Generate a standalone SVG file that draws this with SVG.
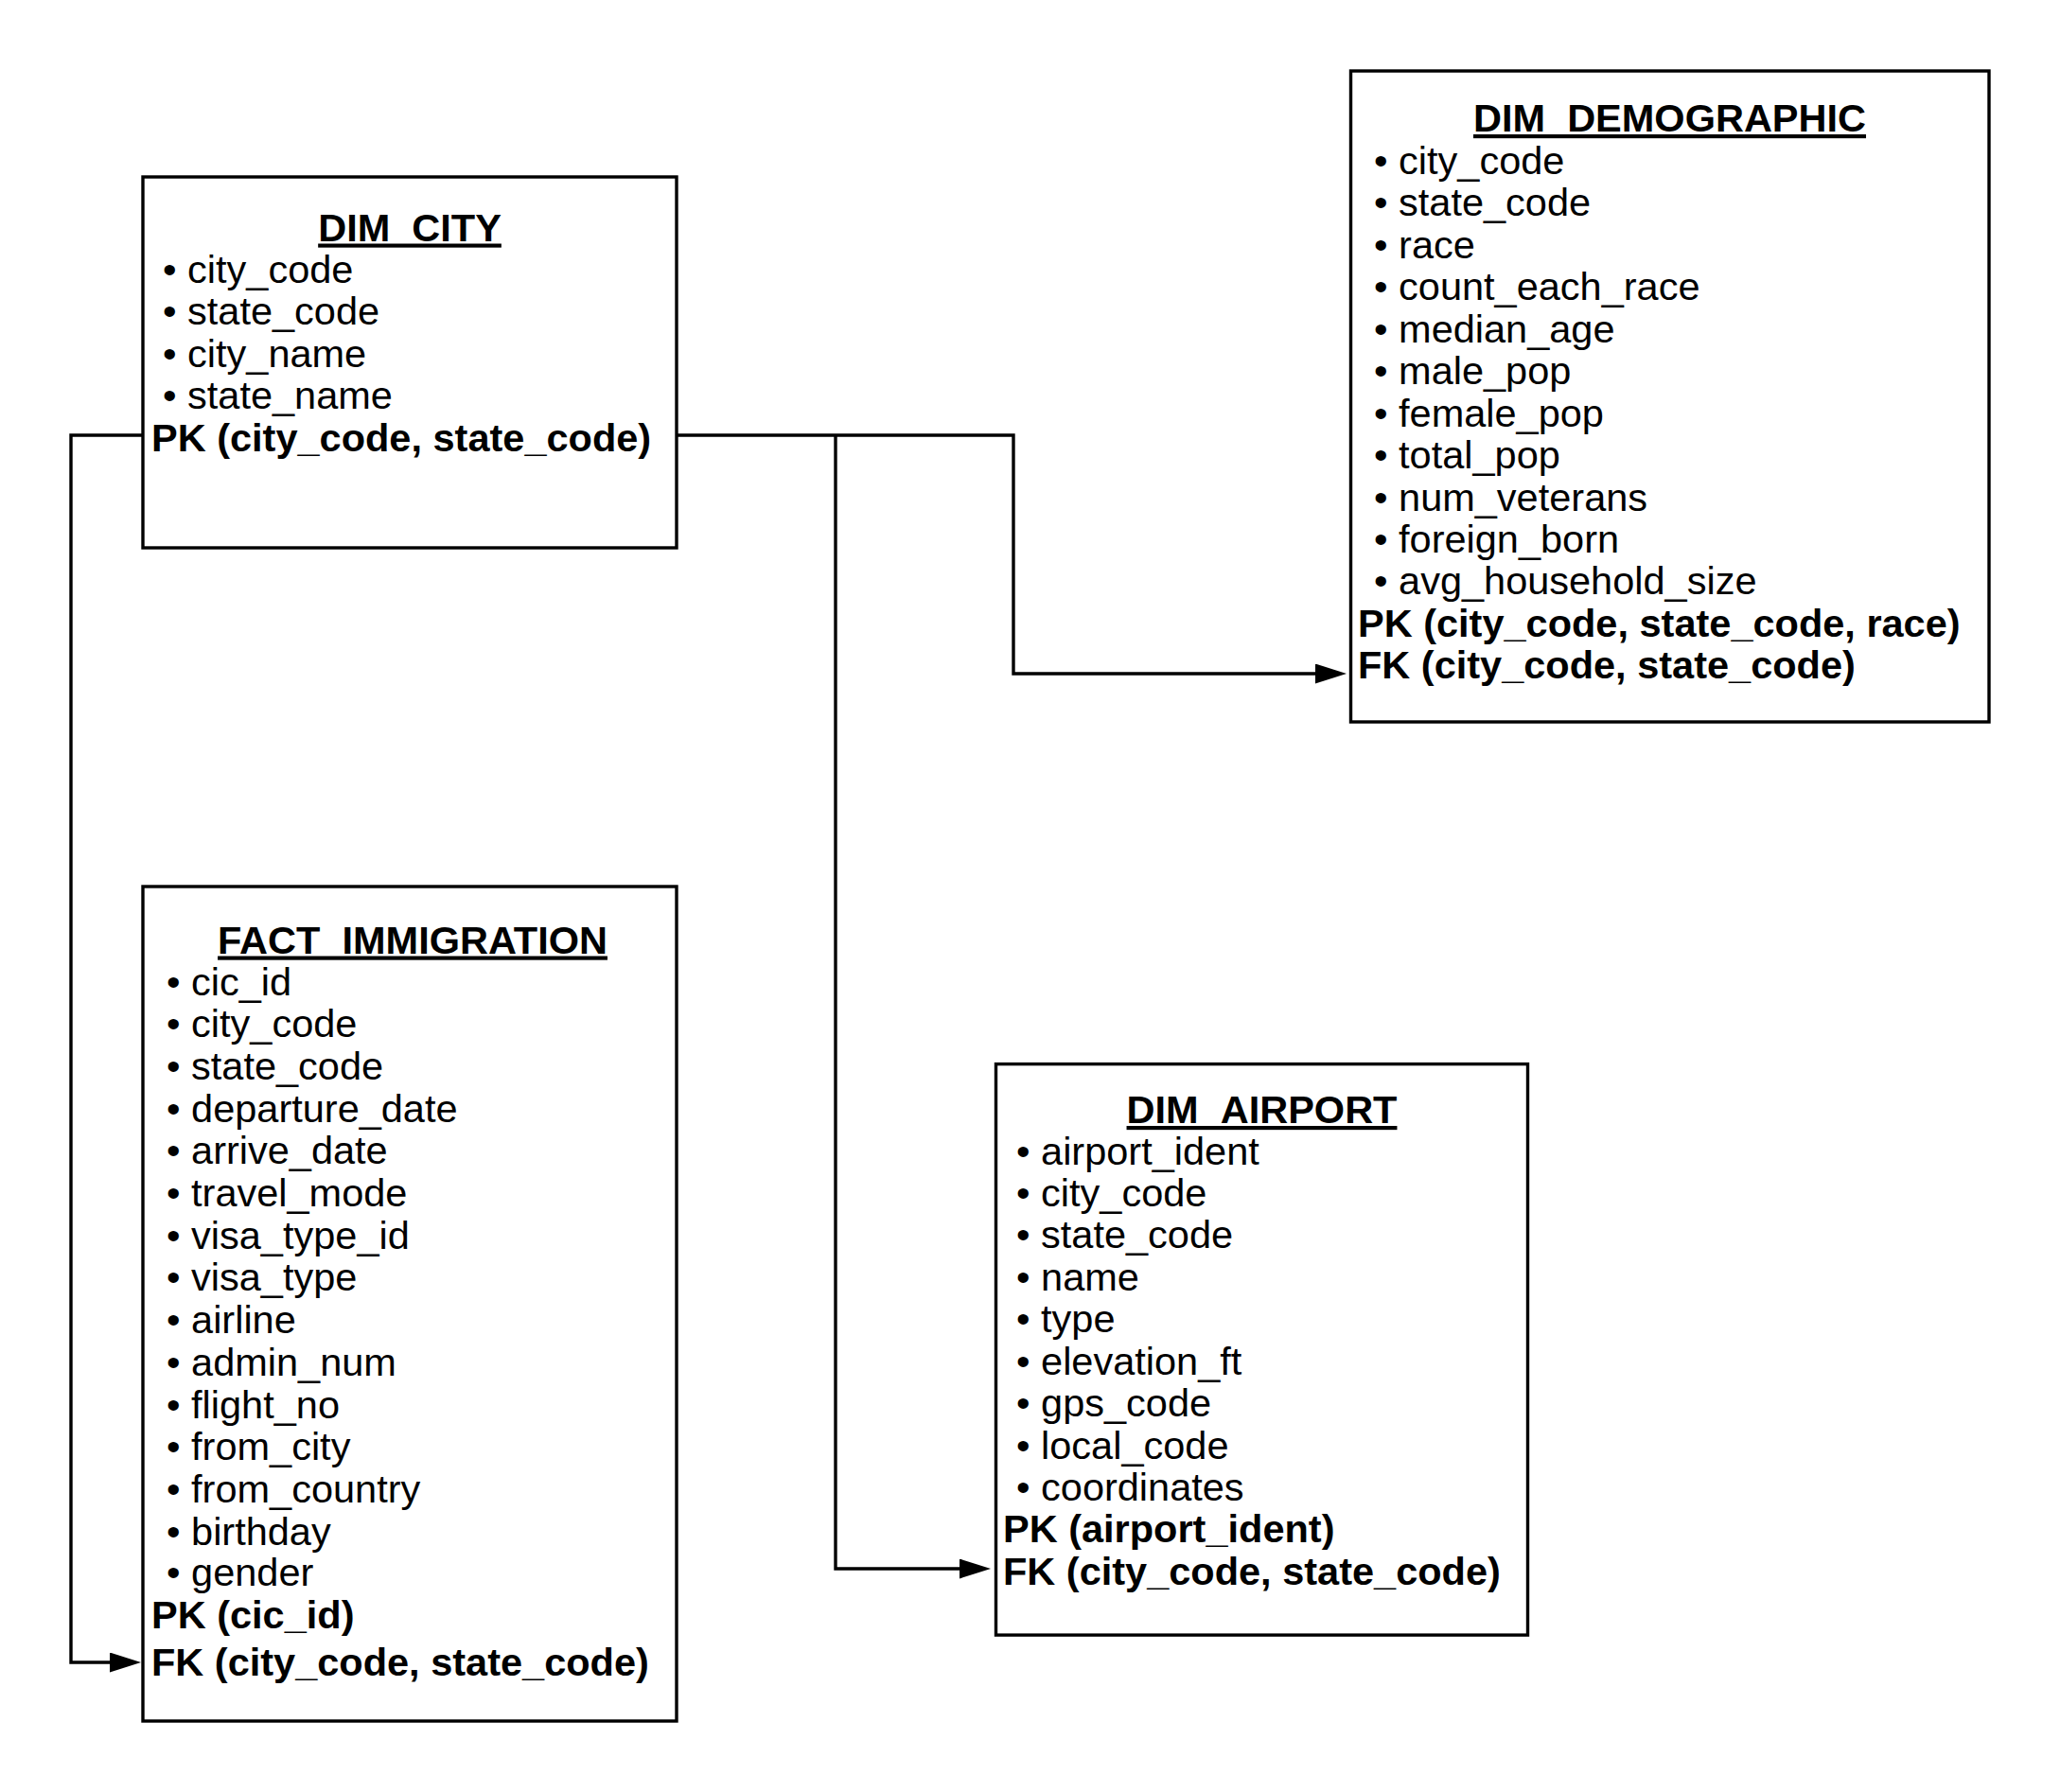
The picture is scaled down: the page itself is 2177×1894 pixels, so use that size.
<svg xmlns="http://www.w3.org/2000/svg" width="2177" height="1894" viewBox="0 0 2177 1894">
<style>
  .box { fill: #ffffff; stroke: #000000; stroke-width: 3.4; }
  .conn { fill: none; stroke: #000000; stroke-width: 3.4; }
  text { font-family: "Liberation Sans", Arial, sans-serif; font-size: 41.5px; fill: #000000; }
  .title { font-weight: bold; text-anchor: middle; text-decoration: underline; }
  .key { font-weight: bold; }
</style>
<defs>
  <marker id="arrow" markerUnits="userSpaceOnUse" markerWidth="34" markerHeight="22" refX="0" refY="10.5" orient="auto">
    <path d="M0,0 L33,10.5 L0,21 Z" fill="#000000"/>
  </marker>
</defs>
<rect width="2177" height="1894" fill="#ffffff"/>

<g id="connectors">
  <path class="conn" d="M151,460 H75 V1757 H116" marker-end="url(#arrow)"/>
  <path class="conn" d="M715,460 H1071 V712 H1390" marker-end="url(#arrow)"/>
  <path class="conn" d="M883,460 V1658 H1014" marker-end="url(#arrow)"/>
</g>

<g id="dim_city">
  <rect class="box" x="151" y="187" width="564" height="392"/>
  <text class="title" x="433" y="254.5">DIM_CITY</text>
  <text x="172" y="299">• city_code</text>
  <text x="172" y="343.4">• state_code</text>
  <text x="172" y="387.9">• city_name</text>
  <text x="172" y="432.3">• state_name</text>
  <text class="key" x="160" y="476.7">PK (city_code, state_code)</text>
</g>

<g id="dim_demographic">
  <rect class="box" x="1427.5" y="75" width="674.5" height="688"/>
  <text class="title" x="1764.5" y="139">DIM_DEMOGRAPHIC</text>
  <text x="1452" y="184">• city_code</text>
  <text x="1452" y="228.4">• state_code</text>
  <text x="1452" y="272.9">• race</text>
  <text x="1452" y="317.3">• count_each_race</text>
  <text x="1452" y="361.7">• median_age</text>
  <text x="1452" y="406.2">• male_pop</text>
  <text x="1452" y="450.6">• female_pop</text>
  <text x="1452" y="495">• total_pop</text>
  <text x="1452" y="539.5">• num_veterans</text>
  <text x="1452" y="583.9">• foreign_born</text>
  <text x="1452" y="628.3">• avg_household_size</text>
  <text class="key" x="1435" y="672.8">PK (city_code, state_code, race)</text>
  <text class="key" x="1435" y="717.2">FK (city_code, state_code)</text>
</g>

<g id="fact_immigration">
  <rect class="box" x="151" y="937" width="564" height="882"/>
  <text class="title" x="436" y="1007.5">FACT_IMMIGRATION</text>
  <text x="176" y="1051.5">• cic_id</text>
  <text x="176" y="1096.2">• city_code</text>
  <text x="176" y="1140.9">• state_code</text>
  <text x="176" y="1185.6">• departure_date</text>
  <text x="176" y="1230.3">• arrive_date</text>
  <text x="176" y="1275">• travel_mode</text>
  <text x="176" y="1319.7">• visa_type_id</text>
  <text x="176" y="1364.4">• visa_type</text>
  <text x="176" y="1409.1">• airline</text>
  <text x="176" y="1453.8">• admin_num</text>
  <text x="176" y="1498.5">• flight_no</text>
  <text x="176" y="1543.2">• from_city</text>
  <text x="176" y="1587.9">• from_country</text>
  <text x="176" y="1632.6">• birthday</text>
  <text x="176" y="1676.3">• gender</text>
  <text class="key" x="160" y="1720.5">PK (cic_id)</text>
  <text class="key" x="160" y="1770.5">FK (city_code, state_code)</text>
</g>

<g id="dim_airport">
  <rect class="box" x="1052.5" y="1124.6" width="562" height="603.5"/>
  <text class="title" x="1333.5" y="1187">DIM_AIRPORT</text>
  <text x="1074" y="1230.5">• airport_ident</text>
  <text x="1074" y="1274.9">• city_code</text>
  <text x="1074" y="1319.4">• state_code</text>
  <text x="1074" y="1363.8">• name</text>
  <text x="1074" y="1408.2">• type</text>
  <text x="1074" y="1452.7">• elevation_ft</text>
  <text x="1074" y="1497.1">• gps_code</text>
  <text x="1074" y="1541.5">• local_code</text>
  <text x="1074" y="1585.9">• coordinates</text>
  <text class="key" x="1060" y="1630.4">PK (airport_ident)</text>
  <text class="key" x="1060" y="1674.8">FK (city_code, state_code)</text>
</g>
</svg>
